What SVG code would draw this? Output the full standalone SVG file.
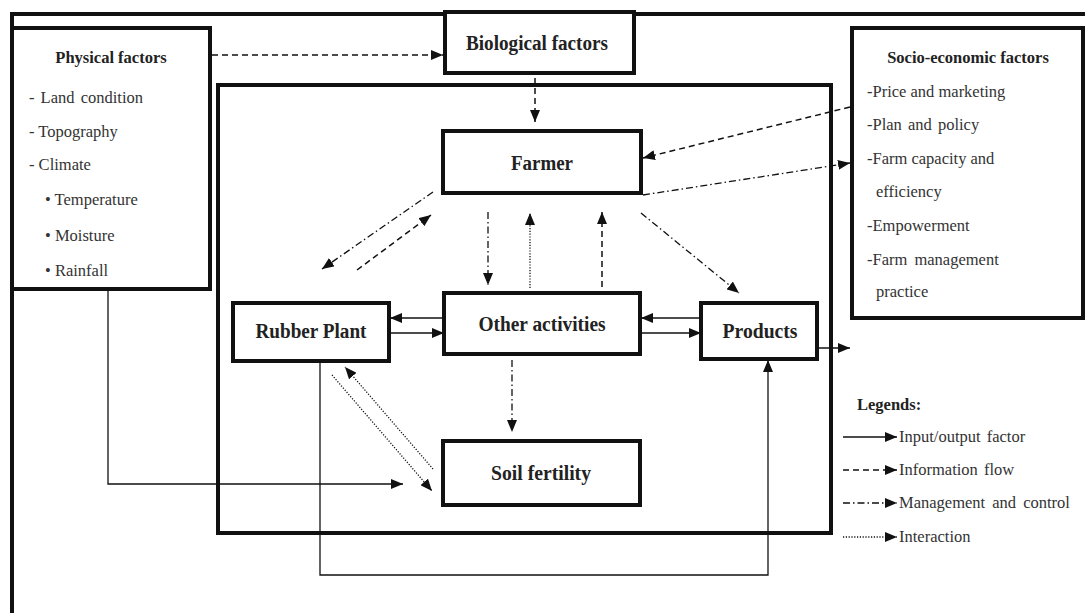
<svg xmlns="http://www.w3.org/2000/svg" width="1085" height="613" viewBox="0 0 1085 613">
<defs>
<marker id="ah" viewBox="0 0 12 10" refX="12" refY="5" markerWidth="12" markerHeight="10" markerUnits="userSpaceOnUse" orient="auto">
<path d="M0,0 L12,5 L0,10 z" fill="#111"/>
</marker>
<style>
.box{fill:#fff;stroke:#111;stroke-width:4}
.frame{fill:none;stroke:#111;stroke-width:4}
.lbl{font-family:"Liberation Serif","Times New Roman",serif;font-weight:bold;font-size:20px;fill:#222;text-anchor:middle}
.hd{font-family:"Liberation Serif","Times New Roman",serif;font-weight:bold;font-size:16.5px;fill:#222}
.it{font-family:"Liberation Serif","Times New Roman",serif;font-size:16.5px;fill:#333}
.ln{fill:none;stroke:#111;stroke-width:1.3}
.solid{marker-end:url(#ah)}
.dash{stroke-dasharray:6 4;stroke-width:1.5;marker-end:url(#ah)}
.dd{stroke-dasharray:7 3 1.5 3;stroke-width:1.3;marker-end:url(#ah)}
.dot{stroke-dasharray:1.2 1.6;stroke-width:1.3;marker-end:url(#ah)}
</style>
</defs>
<rect width="1085" height="613" fill="#fff"/>

<g id="frame">
<path class="frame" d="M12,613 L12,14 L1085,14"/>
<rect class="frame" x="218" y="85" width="613" height="448"/>
</g>

<g id="physical">
<rect class="box" x="12" y="28" width="198" height="261"/>
<text class="hd" x="111" y="63" text-anchor="middle">Physical factors</text>
<text class="it" x="29" y="103" word-spacing="2">- Land condition</text>
<text class="it" x="29" y="137">- Topography</text>
<text class="it" x="29" y="170">- Climate</text>
<text class="it" x="45" y="205">• Temperature</text>
<text class="it" x="45" y="241">• Moisture</text>
<text class="it" x="45" y="276">• Rainfall</text>
</g>

<g id="biological">
<rect class="box" x="445" y="12" width="189" height="61"/>
<text class="lbl" x="537" y="50" textLength="142" lengthAdjust="spacingAndGlyphs">Biological factors</text>
</g>

<g id="socio">
<rect class="box" x="852" y="28" width="231" height="290"/>
<text class="hd" x="968" y="63" text-anchor="middle">Socio-economic factors</text>
<text class="it" x="867" y="97">-Price and marketing</text>
<text class="it" x="867" y="130" word-spacing="2">-Plan and policy</text>
<text class="it" x="867" y="164">-Farm capacity and</text>
<text class="it" x="876" y="197">efficiency</text>
<text class="it" x="867" y="231">-Empowerment</text>
<text class="it" x="867" y="265" word-spacing="3">-Farm management</text>
<text class="it" x="876" y="297">practice</text>
</g>

<g id="farmer">
<rect class="box" x="443" y="131" width="198" height="62"/>
<text class="lbl" x="542" y="170" textLength="62" lengthAdjust="spacingAndGlyphs">Farmer</text>
</g>

<g id="rubber">
<rect class="box" x="233" y="303" width="156" height="58"/>
<text class="lbl" x="311" y="338" textLength="111" lengthAdjust="spacingAndGlyphs">Rubber Plant</text>
</g>

<g id="other">
<rect class="box" x="444" y="293" width="196" height="61"/>
<text class="lbl" x="542" y="331" textLength="127" lengthAdjust="spacingAndGlyphs">Other activities</text>
</g>

<g id="products">
<rect class="box" x="701" y="303" width="116" height="56"/>
<text class="lbl" x="760" y="338" textLength="75" lengthAdjust="spacingAndGlyphs">Products</text>
</g>

<g id="soil">
<rect class="box" x="443" y="441" width="197" height="64"/>
<text class="lbl" x="541" y="480" textLength="100" lengthAdjust="spacingAndGlyphs">Soil fertility</text>
</g>

<g id="connectors">
<path class="ln dash" d="M212,55 L443,55"/>
<path class="ln dash" d="M535,78 L535,122"/>
<path class="ln dash" d="M850,107 L643,158"/>
<path class="ln dash" d="M357,270 L431,215"/>
<path class="ln dash" d="M602,287 L602,212"/>

<path class="ln dd" d="M643,195 L850,163"/>
<path class="ln dd" d="M433,192 L322,269"/>
<path class="ln dd" d="M488,212 L488,285"/>
<path class="ln dd" d="M641,213 L739,293"/>
<path class="ln dd" d="M512,360 L512,432"/>

<path class="ln dot" d="M530,288 L530,213"/>
<path class="ln dot" d="M433,469 L345,367"/>
<path class="ln dot" d="M332,375 L432,491"/>

<path class="ln solid" d="M444,318 L390,318"/>
<path class="ln solid" d="M389,333 L444,333"/>
<path class="ln solid" d="M701,318 L641,318"/>
<path class="ln solid" d="M641,333 L701,333"/>
<path class="ln solid" d="M108,290 L108,484 L403,484"/>
<path class="ln solid" d="M320,361 L320,575 L768,575 L768,360"/>
<path class="ln solid" d="M817,348 L850,348"/>
</g>

<g id="legend">
<text class="hd" x="857" y="410">Legends:</text>
<path class="ln solid" d="M843,437 L897,437"/>
<text class="it" x="899" y="442" word-spacing="2">Input/output factor</text>
<path class="ln dash" d="M843,470 L897,470"/>
<text class="it" x="899" y="475" word-spacing="2">Information flow</text>
<path class="ln dd" d="M843,503 L897,503"/>
<text class="it" x="899" y="508" word-spacing="3">Management and control</text>
<path class="ln dot" d="M843,537 L897,537"/>
<text class="it" x="899" y="542">Interaction</text>
</g>
</svg>
